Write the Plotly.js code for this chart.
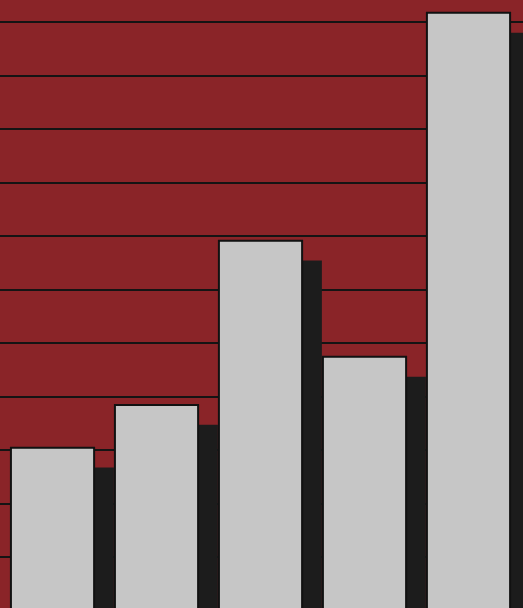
<!DOCTYPE html>
<html>
<head>
<meta charset="utf-8">
<script src="https://cdn.plot.ly/plotly-3.0.1.min.js"></script>
<style>html,body{margin:0;padding:0;background:#8a2428;}#chart{width:523px;height:608px;}</style>
</head>
<body>
<div id="chart"></div>
<script>
// Data (no labels are visible)
const categories = [0, 1, 2, 3, 4];
const values = [3.05, 3.85, 6.92, 4.75, 11.18];
const gridTicks = [1, 2, 3, 4, 5, 6, 7, 8, 9, 10, 11];

// Drop-shadow style settings
const barWidth = 0.8;
const shadowShiftX = 0.19;
const shadowDrop = 0.37;

const shadow = {
  type: 'bar',
  x: categories,
  y: values.map(v => v - shadowDrop),
  width: barWidth,
  offset: -barWidth / 2 + shadowShiftX,
  marker: {color: '#1c1c1c', line: {width: 0}},
  hoverinfo: 'skip',
  showlegend: false
};

const front = {
  type: 'bar',
  x: categories,
  y: values,
  width: barWidth,
  offset: -barWidth / 2,
  marker: {color: '#c6c6c6', line: {color: '#111111', width: 2}},
  showlegend: false
};

const layout = {
  width: 523,
  height: 608,
  margin: {l: 0, r: 0, t: 0, b: 0, pad: 0},
  paper_bgcolor: '#8a2428',
  plot_bgcolor: '#8a2428',
  barmode: 'overlay',
  showlegend: false,
  xaxis: {
    range: [-0.505, 4.524],
    showgrid: false, zeroline: false, showticklabels: false, ticks: '', showline: false
  },
  yaxis: {
    range: [0.056, 11.42],
    tickmode: 'array', tickvals: gridTicks,
    showgrid: true, gridcolor: '#141414', gridwidth: 2,
    zeroline: false, showticklabels: false, ticks: '', showline: false
  }
};

Plotly.newPlot('chart', [shadow, front], layout, {displayModeBar: false, staticPlot: true});
</script>
</body>
</html>
